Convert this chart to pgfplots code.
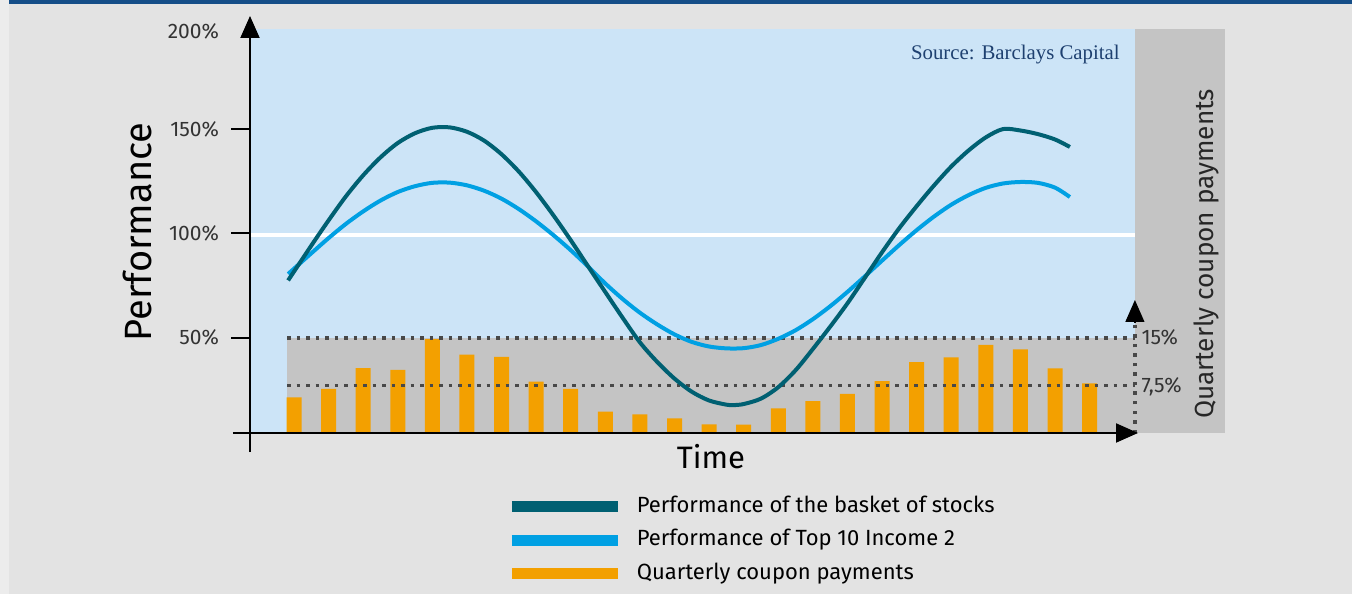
\documentclass[border=0pt]{standalone}
\usepackage{pgfplots}
\usepackage{pgfplotstable}
\pgfplotsset{compat=1.18}
\usetikzlibrary{arrows.meta}
\usepackage{fontspec}
\setmainfont{Fira Sans}
\newfontfamily\srcfont{Liberation Serif}

\definecolor{bgc}{RGB}{227,227,227}
\definecolor{stripc}{RGB}{236,236,236}
\definecolor{topbar}{RGB}{21,78,136}
\definecolor{skyc}{RGB}{204,228,247}
\definecolor{panelc}{RGB}{196,196,196}
\definecolor{basket}{RGB}{0,96,114}
\definecolor{topten}{RGB}{0,160,227}
\definecolor{coupon}{RGB}{243,160,0}
\definecolor{dotc}{RGB}{72,72,72}
\definecolor{srcc}{RGB}{30,64,112}

% quarterly coupon, in % (right scale: 15% = top of grey band)
\pgfplotstableread{
i  c
1  5.64
2  6.95
3  10.26
4  9.95
5  14.84
6  12.36
7  12.00
8  8.10
9  6.95
10 3.36
11 2.95
12 2.32
13 1.37
14 1.31
15 3.90
16 5.05
17 6.16
18 8.18
19 11.18
20 11.95
21 13.90
22 13.20
23 10.20
24 7.85
}\coupons

% performance of the basket of stocks, in %
\pgfplotstableread{
i      v
0.83   77.5
1.5    94.2
2      106.3
2.5    117.8
3      127.9
3.5    136.5
4      143.4
4.5    148.1
5      150.7
5.5    150.9
6      148.8
6.5    144.5
7      138.0
7.5    129.7
8      119.8
8.5    108.7
9      96.8
9.5    84.3
10     71.9
10.5   59.6
11     47.8
11.5   38.4
12     30.4
12.5   24.1
13     19.9
13.5   17.9
13.7   17.7
14     18.2
14.5   20.8
15     26.3
15.5   34.4
16     44.6
16.5   55.3
17     66.5
17.5   78.7
18     91.0
18.5   102.6
19     113.1
19.5   123.0
20     132.1
20.5   139.8
21     146.1
21.5   150.1
22     149.4
22.5   147.7
23     145.1
23.43  141.5
}\basket

% performance of Top 10 Income 2, in %
\pgfplotstableread{
i      v
0.83   80.6
1.5    90.5
2      97.8
2.5    104.6
3      110.6
3.5    115.8
4      119.9
4.5    122.7
5      124.3
5.5    124.4
6      123.1
6.5    120.5
7      116.7
7.5    111.7
8      105.8
8.5    99.2
9      92.0
9.5    84.2
10     76.0
10.5   68.6
11     62.0
11.5   56.4
12     51.6
12.5   48.0
13     45.8
13.5   44.9
14     45.0
14.5   46.5
15     49.5
15.5   53.6
16     58.9
16.5   65.1
17     72.0
17.5   79.4
18     87.0
18.5   94.5
19     101.6
19.5   108.1
20     113.8
20.5   118.4
21     121.9
21.5   124.0
22     124.7
22.5   124.3
23     122.0
23.43  117.5
}\topten

\pgfplotsset{
  boxgeom/.style={at={(125pt,71pt)}, anchor=south west, scale only axis,
    width=487.5pt, height=218pt, xmin=-0.272, xmax=27.915, clip=false},
}
\tikzset{coupdots/.style={dotc, line width=1.75pt, dash pattern=on 1.75pt off 3pt}}

\begin{document}
\begin{tikzpicture}
\fill[bgc] (0,0) rectangle (676pt,297pt);
\fill[stripc] (0,0) rectangle (4.5pt,297pt);
\fill[topbar] (4.5pt,295pt) rectangle (676pt,297pt);

% coupon scale
\begin{axis}[boxgeom, ymin=-3, ymax=65.84, hide axis]
  \fill[skyc] (axis cs:-0.272,0) rectangle (axis cs:25.31,63.8);
  \fill[panelc] (axis cs:25.31,0) rectangle (axis cs:27.915,63.8);
  \draw[white, line width=2.2pt] (axis cs:-0.272,31.26) -- (axis cs:25.31,31.26);
  \fill[panelc] (axis cs:0.798,0) rectangle (axis cs:25.31,15);
  \addplot[ybar, bar width=7.5pt, fill=coupon, draw=none] table[x=i, y=c] {\coupons};
  \draw[coupdots] (axis cs:0.798,15) -- (axis cs:25.31,15);
  \draw[coupdots] (axis cs:0.798,7.5) -- (axis cs:25.31,7.5);
  \draw[coupdots] (axis cs:25.31,0) -- (axis cs:25.31,17.6);
  \draw[-{Triangle[length=11pt,width=9.5pt]}, line width=0.6pt] (axis cs:25.31,17.5) -- (axis cs:25.31,21.0);
  \node[anchor=west, inner sep=0pt, font=\fontsize{10.5}{12}\selectfont, text=black!80] at (axis cs:25.49,15.16) {15\%};
  \node[anchor=west, inner sep=0pt, font=\fontsize{10.5}{12}\selectfont, text=black!80] at (axis cs:25.49,7.26) {7,5\%};
\end{axis}

% performance scale
\begin{axis}[boxgeom, ymin=-4.8, ymax=204.32,
  axis x line=none, axis y line=left, y axis line style={draw=none},
  ytick={50,100,150}, yticklabels={50\%,100\%,150\%},
  extra y ticks={200}, extra y tick labels={200\%},
  extra y tick style={tick style={draw=none}, yticklabel style={yshift=-3pt}},
  tick align=outside, major tick length=9.5pt,
  ytick style={black, line width=1pt},
  yticklabel style={font=\fontsize{10.5}{12}\selectfont, text=black!80, xshift=-2.5pt},
  ylabel={Performance},
  ylabel style={at={(rel axis cs:-0.1149,0.5046)}, anchor=center, rotate=0,
    font=\fontsize{19}{22}\selectfont},
  legend style={draw=none, fill=none, at={(0.2625,-0.0865)}, anchor=north west,
    inner sep=0pt, font=\fontsize{11}{13}\selectfont,
    nodes={text height=8pt, text depth=2.5pt, inner ysep=3.125pt}},
  legend cell align=left,
  legend image code/.code={\draw[#1, line width=5.5pt] (0pt,0pt) -- (53pt,0pt);
    \path[draw=none] (0pt,0pt) -- (60.5pt,0pt);},
]
  \addplot[topten, line width=2pt, smooth, forget plot] table[x=i, y=v] {\topten};
  \addplot[basket, line width=2pt, smooth, forget plot] table[x=i, y=v] {\basket};
  \draw[line width=1pt, -{Triangle[length=11pt,width=9.5pt]}]
    (axis cs:-0.764,4.32) -- (axis cs:25.40,4.32);
  \draw[line width=1pt, -{Triangle[length=11pt,width=9.5pt]}]
    (axis cs:-0.272,-4.8) -- (axis cs:-0.272,204.32);
  \node[anchor=center, font=\fontsize{15.5}{18}\selectfont]
    at (rel axis cs:0.4728,-0.0115) {Time};
  \node[anchor=east, inner sep=0pt, text=srcc, font=\srcfont\fontsize{10.4}{12}\selectfont]
    at (axis cs:24.88,185.6) {Source: Barclays Capital};
  \node[rotate=90, inner sep=0pt, text=black!85, font=\fontsize{13.1}{15}\selectfont]
    at (axis cs:27.37,90.2) {Quarterly coupon payments};
  \addlegendimage{basket}
  \addlegendentry{Performance of the basket of stocks}
  \addlegendimage{topten}
  \addlegendentry{Performance of Top 10 Income 2}
  \addlegendimage{coupon}
  \addlegendentry{Quarterly coupon payments}
\end{axis}
\pgfresetboundingbox
\useasboundingbox (0,0) rectangle (676pt,297pt);
\end{tikzpicture}
\end{document}
